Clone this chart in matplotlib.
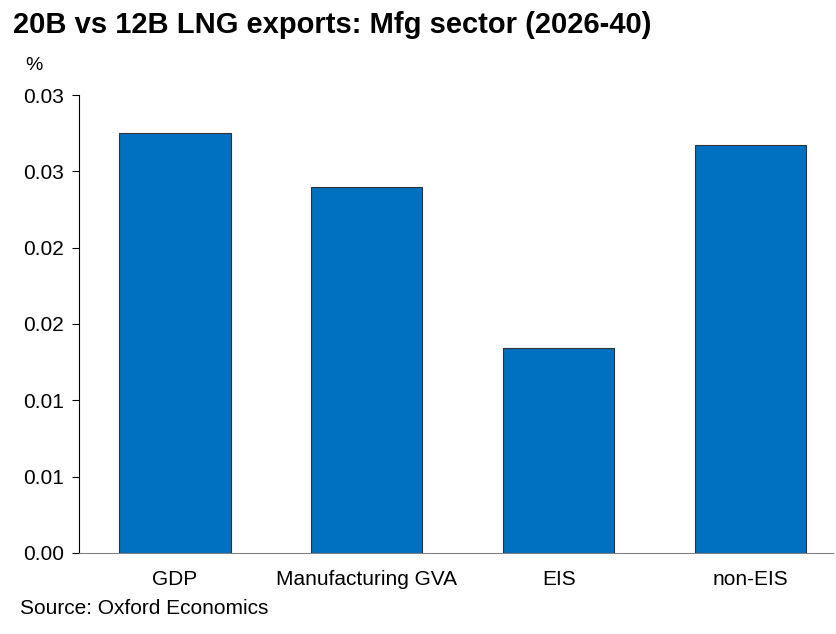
import matplotlib
matplotlib.use('Agg')
import matplotlib.pyplot as plt

plt.rcParams['font.family'] = ['Liberation Sans', 'DejaVu Sans']

categories = ['GDP', 'Manufacturing GVA', 'EIS', 'non-EIS']
values = [0.0275, 0.0240, 0.0134, 0.0267]
ytick_vals = [0, 0.005, 0.01, 0.015, 0.02, 0.025, 0.03]
ytick_labels = ['0.00', '0.01', '0.01', '0.02', '0.02', '0.03', '0.03']

fig = plt.figure(figsize=(8.36, 6.34), dpi=100)
ax = fig.add_axes([0.0945, 0.128, 0.902, 0.722])

x = range(len(categories))
ax.bar(x, values, width=0.58, color='#0070C0', edgecolor='#333333', linewidth=0.8)

ax.set_xlim(-0.5, 3.43)
ax.set_ylim(0, 0.03)
ax.set_yticks(ytick_vals)
ax.set_yticklabels(ytick_labels)
ax.set_xticks(list(x))
ax.set_xticklabels(categories)

for s in ['top', 'right']:
    ax.spines[s].set_visible(False)
ax.spines['left'].set_color('black')
ax.spines['bottom'].set_color('#808080')
ax.tick_params(axis='y', direction='out', length=5, labelsize=15, pad=6)
ax.tick_params(axis='x', length=0, labelsize=15, pad=12)

fig.text(0.015, 0.948, '20B vs 12B LNG exports: Mfg sector (2026-40)',
         fontsize=21, fontweight='bold', va='baseline')
fig.text(0.030, 0.897, '%', fontsize=14, va='center')
fig.text(0.024, 0.040, 'Source: Oxford Economics', fontsize=15, va='center')

fig.savefig('out.png', dpi=100)
